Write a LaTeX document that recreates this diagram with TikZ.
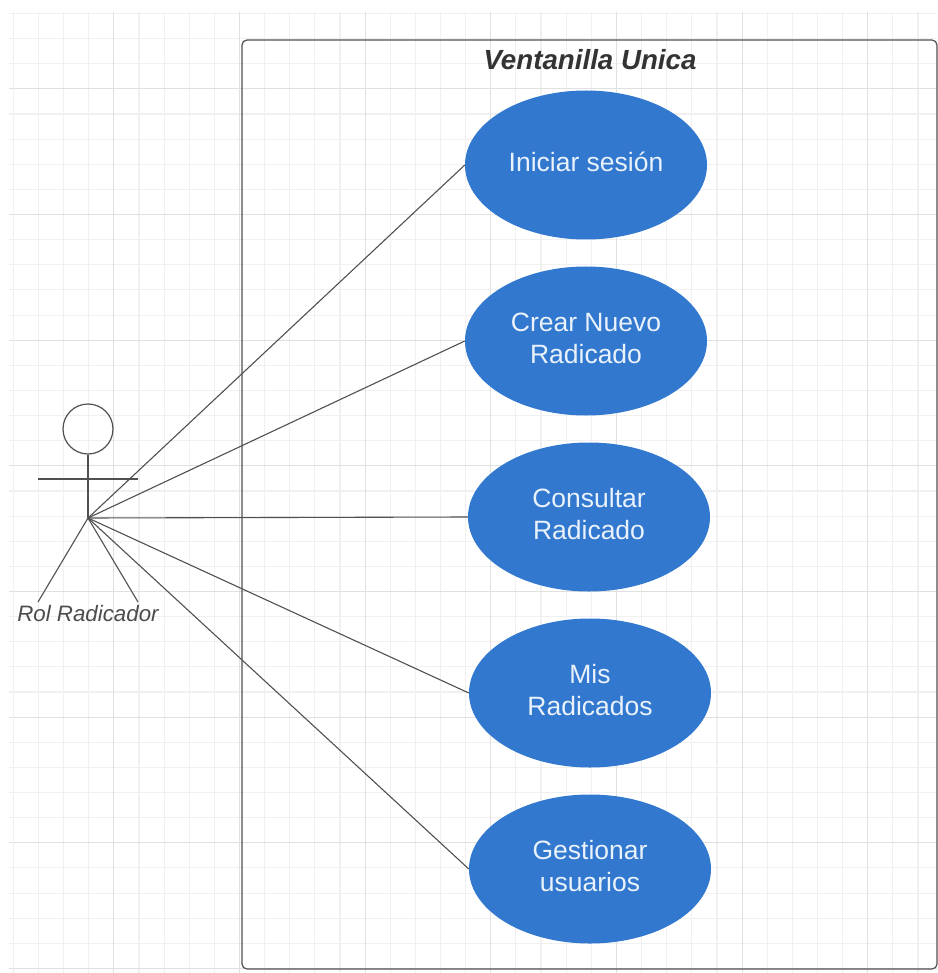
\documentclass[tikz,border=0pt]{standalone}
\usepackage{fontspec}
\setmainfont{Liberation Sans}
\usepackage{xcolor}
\usetikzlibrary{shapes.geometric}
\definecolor{casoblue}{HTML}{3178CE}
\definecolor{casotext}{HTML}{E9F1FB}
\definecolor{linegray}{HTML}{505050}
\tikzset{
    gridminor/.style={line width=1.1pt, draw=black!6},
    gridmajor/.style={line width=1.1pt, draw=black!12},
    usecase/.style={ellipse, fill=casoblue, text=casotext, minimum width=242pt, minimum height=149pt, inner sep=0pt, text depth=6pt, align=center, font=\fontsize{26.5}{32}\selectfont},
    link/.style={line width=1.1pt, draw=linegray},
    actorline/.style={line width=1.1pt, draw=linegray},
}

\begin{document}
\begin{tikzpicture}[x=1pt, y=-1pt]
        \useasboundingbox (0, 0) rectangle (937, 973);

        % Grid
        \foreach \k in {0,...,36} {
            \draw[gridminor] (13.3+25.13*\k, 12) -- (13.3+25.13*\k, 973);
        }
        \foreach \k in {0,...,38} {
            \draw[gridminor] (9, 13.5+25.13*\k) -- (937, 13.5+25.13*\k);
        }
        \foreach \k in {4,9,...,34} {
            \draw[gridmajor] (13.3+25.13*\k, 12) -- (13.3+25.13*\k, 973);
        }
        \foreach \k in {3,8,...,38} {
            \draw[gridmajor] (9, 13.5+25.13*\k) -- (937, 13.5+25.13*\k);
        }

        % System box
        \node[draw=linegray, line width=1.2pt, rounded corners=5pt, minimum width=695pt, minimum height=929pt, inner sep=0pt] (sistema) at (589.5, 504.5) {};
        \node[font=\fontsize{27.7}{32}\selectfont\bfseries\itshape, text=black!80] (titulo) at (590, 60) {Ventanilla Unica};

        % Use cases
        \node[usecase] (iniciar) at (586, 165) {Iniciar sesión};
        \node[usecase] (crear) at (586, 341) {Crear Nuevo\\Radicado};
        \node[usecase] (consultar) at (589, 517) {Consultar\\Radicado};
        \node[usecase] (mis) at (590, 693) {Mis\\Radicados};
        \node[usecase] (gestionar) at (590, 869) {Gestionar\\usuarios};

        % Actor
        \node[circle, draw=linegray, line width=1.2pt, minimum size=50pt, inner sep=0pt] (cabeza) at (88, 429) {};
        \coordinate (cadera) at (88, 518);
        \coordinate (manoizq) at (38, 479);
        \coordinate (manoder) at (138, 479);
        \coordinate (pieizq) at (38, 602);
        \coordinate (pieder) at (138, 602);
        \draw[actorline] (cabeza) -- (cadera);
        \draw[actorline] (manoizq) -- (manoder);
        \draw[actorline] (cadera) -- (pieizq);
        \draw[actorline] (cadera) -- (pieder);
        \node[font=\fontsize{22.3}{26}\selectfont\itshape, text=black!70] (rol) at (88, 614) {Rol Radicador};

        % Edges
        \draw[link] (cadera) -- (iniciar.west);
        \draw[link] (cadera) -- (crear.west);
        \draw[link] (cadera) -- (consultar.west);
        \draw[link] (cadera) -- (mis.west);
        \draw[link] (cadera) -- (gestionar.west);
\end{tikzpicture}
\end{document}
